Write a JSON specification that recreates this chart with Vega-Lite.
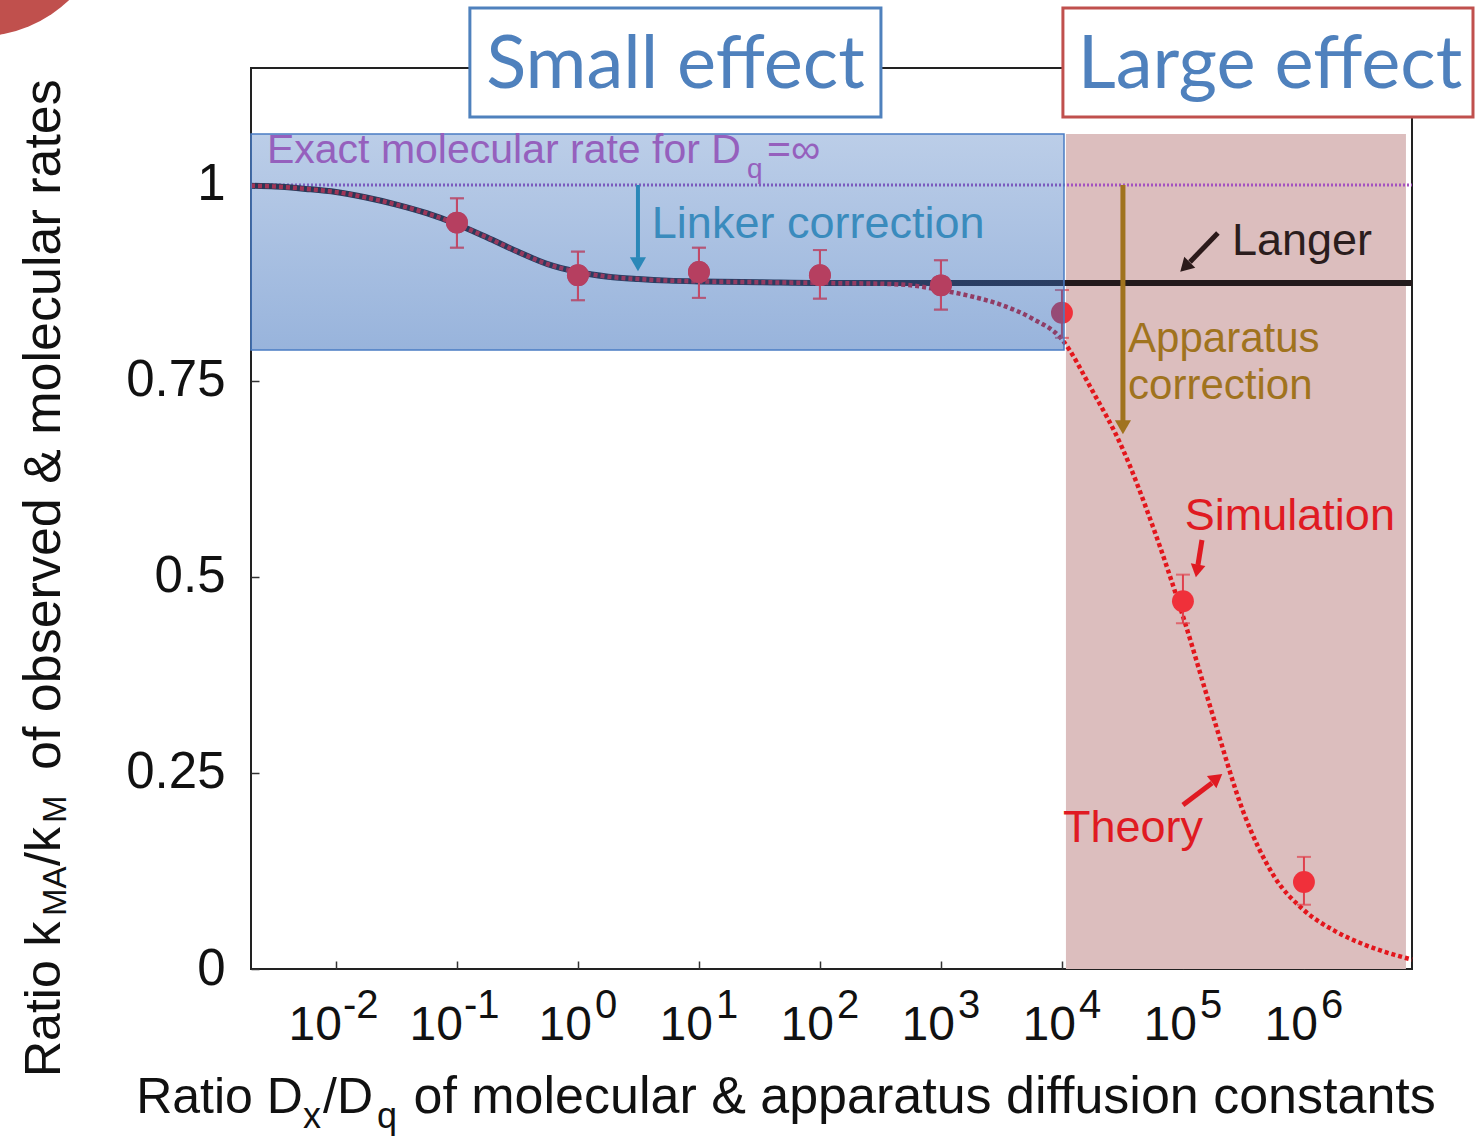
{
  "$schema": "https://vega.github.io/schema/vega-lite/v6.json",
  "width": 1161,
  "height": 901,
  "autosize": "none",
  "padding": {"left": 251, "top": 68, "right": 63, "bottom": 172},
  "background": "white",
  "config": {
    "view": {"stroke": "#222222", "strokeWidth": 2},
    "axis": {"grid": false, "domain": false, "labelFont": "Liberation Sans", "labelColor": "#111111", "tickColor": "#333333", "tickWidth": 1.5}
  },
  "data": {"values": [{}]},
  "datasets": {
    "langer": [
      {"ratio": 0.001986, "rate": 0.999},
      {"ratio": 0.003162, "rate": 0.998},
      {"ratio": 0.005623, "rate": 0.995},
      {"ratio": 0.01, "rate": 0.991},
      {"ratio": 0.01778, "rate": 0.984},
      {"ratio": 0.03162, "rate": 0.975},
      {"ratio": 0.05623, "rate": 0.964},
      {"ratio": 0.1, "rate": 0.950},
      {"ratio": 0.1778, "rate": 0.933},
      {"ratio": 0.3162, "rate": 0.915},
      {"ratio": 0.5623, "rate": 0.899},
      {"ratio": 1, "rate": 0.889},
      {"ratio": 1.778, "rate": 0.883},
      {"ratio": 3.162, "rate": 0.880},
      {"ratio": 5.623, "rate": 0.878},
      {"ratio": 10, "rate": 0.877},
      {"ratio": 31.62, "rate": 0.876},
      {"ratio": 100, "rate": 0.875},
      {"ratio": 7816278, "rate": 0.875}
    ],
    "theory": [
      {"ratio": 0.001986, "rate": 0.999},
      {"ratio": 0.003162, "rate": 0.998},
      {"ratio": 0.005623, "rate": 0.995},
      {"ratio": 0.01, "rate": 0.991},
      {"ratio": 0.01778, "rate": 0.984},
      {"ratio": 0.03162, "rate": 0.975},
      {"ratio": 0.05623, "rate": 0.964},
      {"ratio": 0.1, "rate": 0.950},
      {"ratio": 0.1778, "rate": 0.933},
      {"ratio": 0.3162, "rate": 0.915},
      {"ratio": 0.5623, "rate": 0.899},
      {"ratio": 1, "rate": 0.889},
      {"ratio": 1.778, "rate": 0.883},
      {"ratio": 3.162, "rate": 0.880},
      {"ratio": 5.623, "rate": 0.878},
      {"ratio": 10, "rate": 0.877},
      {"ratio": 31.62, "rate": 0.876},
      {"ratio": 100, "rate": 0.875},
      {"ratio": 316.2, "rate": 0.874},
      {"ratio": 562.3, "rate": 0.872},
      {"ratio": 1000, "rate": 0.866},
      {"ratio": 1778, "rate": 0.858},
      {"ratio": 3162, "rate": 0.847},
      {"ratio": 5623, "rate": 0.830},
      {"ratio": 10000, "rate": 0.803},
      {"ratio": 17783, "rate": 0.738},
      {"ratio": 31623, "rate": 0.664},
      {"ratio": 56234, "rate": 0.565},
      {"ratio": 100000, "rate": 0.450},
      {"ratio": 177828, "rate": 0.322},
      {"ratio": 316228, "rate": 0.200},
      {"ratio": 562341, "rate": 0.119},
      {"ratio": 1000000, "rate": 0.075},
      {"ratio": 1778279, "rate": 0.049},
      {"ratio": 3162278, "rate": 0.031},
      {"ratio": 5623413, "rate": 0.018},
      {"ratio": 7816278, "rate": 0.012}
    ],
    "simulation": [
      {"ratio": 0.1, "rate": 0.952, "lo": 0.920, "hi": 0.983},
      {"ratio": 1, "rate": 0.885, "lo": 0.853, "hi": 0.915},
      {"ratio": 10, "rate": 0.889, "lo": 0.856, "hi": 0.920},
      {"ratio": 100, "rate": 0.885, "lo": 0.855, "hi": 0.917},
      {"ratio": 1000, "rate": 0.872, "lo": 0.841, "hi": 0.904},
      {"ratio": 10000, "rate": 0.837, "lo": 0.805, "hi": 0.866},
      {"ratio": 100000, "rate": 0.469, "lo": 0.441, "hi": 0.503},
      {"ratio": 1000000, "rate": 0.111, "lo": 0.082, "hi": 0.143}
    ],
    "decades": [
      {"d": 0.01, "e": "-2"},
      {"d": 0.1, "e": "-1"},
      {"d": 1, "e": "0"},
      {"d": 10, "e": "1"},
      {"d": 100, "e": "2"},
      {"d": 1000, "e": "3"},
      {"d": 10000, "e": "4"},
      {"d": 100000, "e": "5"},
      {"d": 1000000, "e": "6"}
    ]
  },
  "layer": [
    {
      "mark": {"type": "point", "shape": "circle", "filled": true, "size": 70225, "color": "#c0504d", "opacity": 1},
      "encoding": {"x": {"datum": 0.00001099, "type": "quantitative"}, "y": {"datum": 1.3584, "type": "quantitative"}}
    },
    {
      "mark": {"type": "rect", "color": "#dcbebe"},
      "encoding": {
        "x": {"datum": 10789, "type": "quantitative"}, "x2": {"datum": 6966000},
        "y": {"datum": 0, "type": "quantitative"}, "y2": {"datum": 1.0651}
      }
    },
    {
      "mark": {"type": "rule", "color": "#a452c0", "strokeWidth": 3, "strokeDash": [2, 2]},
      "encoding": {
        "x": {"datum": 0.001986, "type": "quantitative"}, "x2": {"datum": 7816278},
        "y": {"datum": 1, "type": "quantitative"}
      }
    },
    {
      "data": {"name": "langer"},
      "mark": {"type": "line", "color": "#231a1c", "strokeWidth": 6, "interpolate": "monotone"},
      "encoding": {
        "x": {
          "field": "ratio", "type": "quantitative",
          "scale": {"type": "log", "domain": [0.001986, 7816278], "nice": false},
          "axis": {"values": [0.01, 0.1, 1, 10, 100, 1000, 10000, 100000, 1000000], "labels": false, "title": null, "tickSize": -8}
        },
        "y": {
          "field": "rate", "type": "quantitative",
          "scale": {"domain": [0, 1.1492], "nice": false, "zero": false},
          "axis": {"values": [0, 0.25, 0.5, 0.75, 1], "format": "~g", "labelFontSize": 51, "labelPadding": 34, "title": null, "tickSize": -8}
        }
      }
    },
    {
      "data": {"name": "theory"},
      "mark": {"type": "line", "color": "#e3161c", "strokeWidth": 4.5, "strokeDash": [4, 3], "interpolate": "monotone"},
      "encoding": {"x": {"field": "ratio", "type": "quantitative"}, "y": {"field": "rate", "type": "quantitative"}}
    },
    {
      "data": {"name": "simulation"},
      "mark": {"type": "rule", "color": "#e0404c", "strokeWidth": 2},
      "encoding": {"x": {"field": "ratio", "type": "quantitative"}, "y": {"field": "lo", "type": "quantitative"}, "y2": {"field": "hi"}}
    },
    {
      "data": {"name": "simulation"},
      "mark": {"type": "tick", "orient": "horizontal", "color": "#e0404c", "size": 14, "thickness": 2},
      "encoding": {"x": {"field": "ratio", "type": "quantitative"}, "y": {"field": "hi", "type": "quantitative"}}
    },
    {
      "data": {"name": "simulation"},
      "mark": {"type": "tick", "orient": "horizontal", "color": "#e0404c", "size": 14, "thickness": 2},
      "encoding": {"x": {"field": "ratio", "type": "quantitative"}, "y": {"field": "lo", "type": "quantitative"}}
    },
    {
      "data": {"name": "simulation"},
      "mark": {"type": "point", "shape": "circle", "filled": true, "size": 480, "color": "#f0303a", "opacity": 1},
      "encoding": {"x": {"field": "ratio", "type": "quantitative"}, "y": {"field": "rate", "type": "quantitative"}}
    },
    {
      "mark": {
        "type": "rect", "stroke": "#4a7cc4", "strokeWidth": 1.5,
        "fill": {"gradient": "linear", "x1": 0, "y1": 0, "x2": 0, "y2": 1,
          "stops": [{"offset": 0, "color": "rgba(50,105,185,0.33)"}, {"offset": 1, "color": "rgba(50,105,185,0.50)"}]}
      },
      "encoding": {
        "x": {"datum": 0.001986, "type": "quantitative"}, "x2": {"datum": 10399},
        "y": {"datum": 0.7895, "type": "quantitative"}, "y2": {"datum": 1.0651}
      }
    },
    {
      "data": {"name": "simulation"},
      "transform": [{"filter": "datum.ratio < 5000"}],
      "mark": {"type": "rule", "color": "#c24a68", "strokeWidth": 2},
      "encoding": {"x": {"field": "ratio", "type": "quantitative"}, "y": {"field": "lo", "type": "quantitative"}, "y2": {"field": "hi"}}
    },
    {
      "data": {"name": "simulation"},
      "transform": [{"filter": "datum.ratio < 5000"}],
      "mark": {"type": "tick", "orient": "horizontal", "color": "#c24a68", "size": 14, "thickness": 2},
      "encoding": {"x": {"field": "ratio", "type": "quantitative"}, "y": {"field": "hi", "type": "quantitative"}}
    },
    {
      "data": {"name": "simulation"},
      "transform": [{"filter": "datum.ratio < 5000"}],
      "mark": {"type": "tick", "orient": "horizontal", "color": "#c24a68", "size": 14, "thickness": 2},
      "encoding": {"x": {"field": "ratio", "type": "quantitative"}, "y": {"field": "lo", "type": "quantitative"}}
    },
    {
      "data": {"name": "simulation"},
      "transform": [{"filter": "datum.ratio < 5000"}],
      "mark": {"type": "point", "shape": "circle", "filled": true, "size": 480, "color": "#b63f60", "opacity": 1},
      "encoding": {"x": {"field": "ratio", "type": "quantitative"}, "y": {"field": "rate", "type": "quantitative"}}
    },
    {
      "mark": {"type": "rule", "color": "#2b88b8", "strokeWidth": 4},
      "encoding": {"x": {"datum": 3.133, "type": "quantitative"}, "y": {"datum": 1.0, "type": "quantitative"}, "y2": {"datum": 0.907}}
    },
    {
      "mark": {"type": "point", "shape": "triangle-down", "filled": true, "size": 260, "color": "#2b88b8", "opacity": 1},
      "encoding": {"x": {"datum": 3.133, "type": "quantitative"}, "y": {"datum": 0.899, "type": "quantitative"}}
    },
    {
      "mark": {"type": "rule", "color": "#a0731e", "strokeWidth": 5},
      "encoding": {"x": {"datum": 31915, "type": "quantitative"}, "y": {"datum": 1.0, "type": "quantitative"}, "y2": {"datum": 0.697}}
    },
    {
      "mark": {"type": "point", "shape": "triangle-down", "filled": true, "size": 260, "color": "#a0731e", "opacity": 1},
      "encoding": {"x": {"datum": 31915, "type": "quantitative"}, "y": {"datum": 0.691, "type": "quantitative"}}
    },
    {
      "mark": {"type": "rule", "color": "#2b1a1a", "strokeWidth": 5},
      "encoding": {"x": {"datum": 194500, "type": "quantitative"}, "x2": {"datum": 114300}, "y": {"datum": 0.9388, "type": "quantitative"}, "y2": {"datum": 0.9018}}
    },
    {
      "mark": {"type": "point", "shape": "triangle-up", "angle": 225, "filled": true, "size": 240, "color": "#2b1a1a", "opacity": 1},
      "encoding": {"x": {"datum": 104000, "type": "quantitative"}, "y": {"datum": 0.8954, "type": "quantitative"}}
    },
    {
      "mark": {"type": "rule", "color": "#e01a22", "strokeWidth": 5},
      "encoding": {"x": {"datum": 143600, "type": "quantitative"}, "x2": {"datum": 133000}, "y": {"datum": 0.5472, "type": "quantitative"}, "y2": {"datum": 0.5153}}
    },
    {
      "mark": {"type": "point", "shape": "triangle-up", "angle": 190, "filled": true, "size": 220, "color": "#e01a22", "opacity": 1},
      "encoding": {"x": {"datum": 130600, "type": "quantitative"}, "y": {"datum": 0.5077, "type": "quantitative"}}
    },
    {
      "mark": {"type": "rule", "color": "#e01a22", "strokeWidth": 5},
      "encoding": {"x": {"datum": 100000, "type": "quantitative"}, "x2": {"datum": 173800}, "y": {"datum": 0.2092, "type": "quantitative"}, "y2": {"datum": 0.2372}}
    },
    {
      "mark": {"type": "point", "shape": "triangle-up", "angle": 52, "filled": true, "size": 240, "color": "#e01a22", "opacity": 1},
      "encoding": {"x": {"datum": 191000, "type": "quantitative"}, "y": {"datum": 0.2436, "type": "quantitative"}}
    },
    {
      "mark": {"type": "text", "text": "Exact molecular rate for D", "font": "Liberation Sans", "fontSize": 41, "color": "#9560bd", "align": "left", "baseline": "alphabetic"},
      "encoding": {"x": {"datum": 0.002691, "type": "quantitative"}, "y": {"datum": 1.0281, "type": "quantitative"}}
    },
    {
      "mark": {"type": "text", "text": "q", "font": "Liberation Sans", "fontSize": 28, "color": "#9560bd", "align": "left", "baseline": "alphabetic"},
      "encoding": {"x": {"datum": 25.0, "type": "quantitative"}, "y": {"datum": 1.0089, "type": "quantitative"}}
    },
    {
      "mark": {"type": "text", "text": "=∞", "font": "Liberation Sans", "fontSize": 41, "color": "#9560bd", "align": "left", "baseline": "alphabetic"},
      "encoding": {"x": {"datum": 36.48, "type": "quantitative"}, "y": {"datum": 1.0281, "type": "quantitative"}}
    },
    {
      "mark": {"type": "text", "text": "Linker correction", "font": "Liberation Sans", "fontSize": 45, "color": "#3a8bbd", "align": "left", "baseline": "alphabetic"},
      "encoding": {"x": {"datum": 4.08, "type": "quantitative"}, "y": {"datum": 0.9324, "type": "quantitative"}}
    },
    {
      "mark": {"type": "text", "text": "Langer", "font": "Liberation Sans", "fontSize": 45, "color": "#2b1d1d", "align": "left", "baseline": "alphabetic"},
      "encoding": {"x": {"datum": 254000, "type": "quantitative"}, "y": {"datum": 0.9107, "type": "quantitative"}}
    },
    {
      "mark": {"type": "text", "text": ["Apparatus", "correction"], "lineHeight": 47, "font": "Liberation Sans", "fontSize": 42, "color": "#a0731e", "align": "left", "baseline": "alphabetic"},
      "encoding": {"x": {"datum": 35200, "type": "quantitative"}, "y": {"datum": 0.7870, "type": "quantitative"}}
    },
    {
      "mark": {"type": "text", "text": "Simulation", "font": "Liberation Sans", "fontSize": 45, "color": "#e01a22", "align": "left", "baseline": "alphabetic"},
      "encoding": {"x": {"datum": 103600, "type": "quantitative"}, "y": {"datum": 0.560, "type": "quantitative"}}
    },
    {
      "mark": {"type": "text", "text": "Theory", "font": "Liberation Sans", "fontSize": 45, "color": "#e01a22", "align": "left", "baseline": "alphabetic"},
      "encoding": {"x": {"datum": 10200, "type": "quantitative"}, "y": {"datum": 0.162, "type": "quantitative"}}
    },
    {
      "mark": {"type": "rect", "fill": "white", "stroke": "#4f81bd", "strokeWidth": 3},
      "encoding": {"x": {"datum": 0.1279, "type": "quantitative"}, "x2": {"datum": 319.2}, "y": {"datum": 1.0867, "type": "quantitative"}, "y2": {"datum": 1.2258}}
    },
    {
      "mark": {"type": "text", "text": "Small effect", "font": "Lato", "fontSize": 74, "color": "#4f81bd", "align": "center", "baseline": "alphabetic"},
      "encoding": {"x": {"datum": 6.397, "type": "quantitative"}, "y": {"datum": 1.1237, "type": "quantitative"}}
    },
    {
      "mark": {"type": "rect", "fill": "white", "stroke": "#c0504d", "strokeWidth": 3},
      "encoding": {"x": {"datum": 10186, "type": "quantitative"}, "x2": {"datum": 24950000}, "y": {"datum": 1.0867, "type": "quantitative"}, "y2": {"datum": 1.2258}}
    },
    {
      "mark": {"type": "text", "text": "Large effect", "font": "Lato", "fontSize": 74, "color": "#4f81bd", "align": "center", "baseline": "alphabetic"},
      "encoding": {"x": {"datum": 523600, "type": "quantitative"}, "y": {"datum": 1.1237, "type": "quantitative"}}
    },
    {
      "data": {"name": "decades"},
      "transform": [{"filter": "datum.d < 1"}],
      "mark": {"type": "text", "text": "10", "font": "Liberation Sans", "fontSize": 48, "color": "#111111", "align": "right", "baseline": "alphabetic", "dx": 6},
      "encoding": {"x": {"field": "d", "type": "quantitative"}, "y": {"datum": -0.0906, "type": "quantitative"}}
    },
    {
      "data": {"name": "decades"},
      "transform": [{"filter": "datum.d >= 1"}],
      "mark": {"type": "text", "text": "10", "font": "Liberation Sans", "fontSize": 48, "color": "#111111", "align": "right", "baseline": "alphabetic", "dx": 14},
      "encoding": {"x": {"field": "d", "type": "quantitative"}, "y": {"datum": -0.0906, "type": "quantitative"}}
    },
    {
      "data": {"name": "decades"},
      "transform": [{"filter": "datum.d < 1"}],
      "mark": {"type": "text", "font": "Liberation Sans", "fontSize": 40, "color": "#111111", "align": "left", "baseline": "alphabetic", "dx": 7},
      "encoding": {"x": {"field": "d", "type": "quantitative"}, "y": {"datum": -0.0625, "type": "quantitative"}, "text": {"field": "e", "type": "nominal"}}
    },
    {
      "data": {"name": "decades"},
      "transform": [{"filter": "datum.d >= 1"}],
      "mark": {"type": "text", "font": "Liberation Sans", "fontSize": 40, "color": "#111111", "align": "left", "baseline": "alphabetic", "dx": 17},
      "encoding": {"x": {"field": "d", "type": "quantitative"}, "y": {"datum": -0.0625, "type": "quantitative"}, "text": {"field": "e", "type": "nominal"}}
    },
    {
      "mark": {"type": "text", "text": "Ratio D", "font": "Liberation Sans", "fontSize": 50, "color": "#111111", "align": "left", "baseline": "alphabetic"},
      "encoding": {"x": {"datum": 0.0002234, "type": "quantitative"}, "y": {"datum": -0.1837, "type": "quantitative"}}
    },
    {
      "mark": {"type": "text", "text": "x", "font": "Liberation Sans", "fontSize": 36, "color": "#111111", "align": "left", "baseline": "alphabetic"},
      "encoding": {"x": {"datum": 0.005333, "type": "quantitative"}, "y": {"datum": -0.2028, "type": "quantitative"}}
    },
    {
      "mark": {"type": "text", "text": "/D", "font": "Liberation Sans", "fontSize": 50, "color": "#111111", "align": "left", "baseline": "alphabetic"},
      "encoding": {"x": {"datum": 0.007816, "type": "quantitative"}, "y": {"datum": -0.1837, "type": "quantitative"}}
    },
    {
      "mark": {"type": "text", "text": "q", "font": "Liberation Sans", "fontSize": 36, "color": "#111111", "align": "left", "baseline": "alphabetic"},
      "encoding": {"x": {"datum": 0.02183, "type": "quantitative"}, "y": {"datum": -0.2028, "type": "quantitative"}}
    },
    {
      "mark": {"type": "text", "text": "of molecular & apparatus diffusion constants", "font": "Liberation Sans", "fontSize": 52, "color": "#111111", "align": "left", "baseline": "alphabetic"},
      "encoding": {"x": {"datum": 0.04372, "type": "quantitative"}, "y": {"datum": -0.1837, "type": "quantitative"}}
    },
    {
      "mark": {"type": "text", "text": "Ratio k", "font": "Liberation Sans", "fontSize": 50, "color": "#111111", "align": "left", "baseline": "alphabetic", "angle": 270},
      "encoding": {"x": {"datum": 0.00005236, "type": "quantitative"}, "y": {"datum": -0.1378, "type": "quantitative"}}
    },
    {
      "mark": {"type": "text", "text": "MA", "font": "Liberation Sans", "fontSize": 33, "color": "#111111", "align": "left", "baseline": "alphabetic", "angle": 270},
      "encoding": {"x": {"datum": 0.00005870, "type": "quantitative"}, "y": {"datum": 0.0676, "type": "quantitative"}}
    },
    {
      "mark": {"type": "text", "text": "/k", "font": "Liberation Sans", "fontSize": 50, "color": "#111111", "align": "left", "baseline": "alphabetic", "angle": 270},
      "encoding": {"x": {"datum": 0.00005236, "type": "quantitative"}, "y": {"datum": 0.1314, "type": "quantitative"}}
    },
    {
      "mark": {"type": "text", "text": "M", "font": "Liberation Sans", "fontSize": 33, "color": "#111111", "align": "left", "baseline": "alphabetic", "angle": 270},
      "encoding": {"x": {"datum": 0.00005870, "type": "quantitative"}, "y": {"datum": 0.1862, "type": "quantitative"}}
    },
    {
      "mark": {"type": "text", "text": "of observed & molecular rates", "font": "Liberation Sans", "fontSize": 52, "color": "#111111", "align": "left", "baseline": "alphabetic", "angle": 270},
      "encoding": {"x": {"datum": 0.00005236, "type": "quantitative"}, "y": {"datum": 0.2538, "type": "quantitative"}}
    }
  ]
}
